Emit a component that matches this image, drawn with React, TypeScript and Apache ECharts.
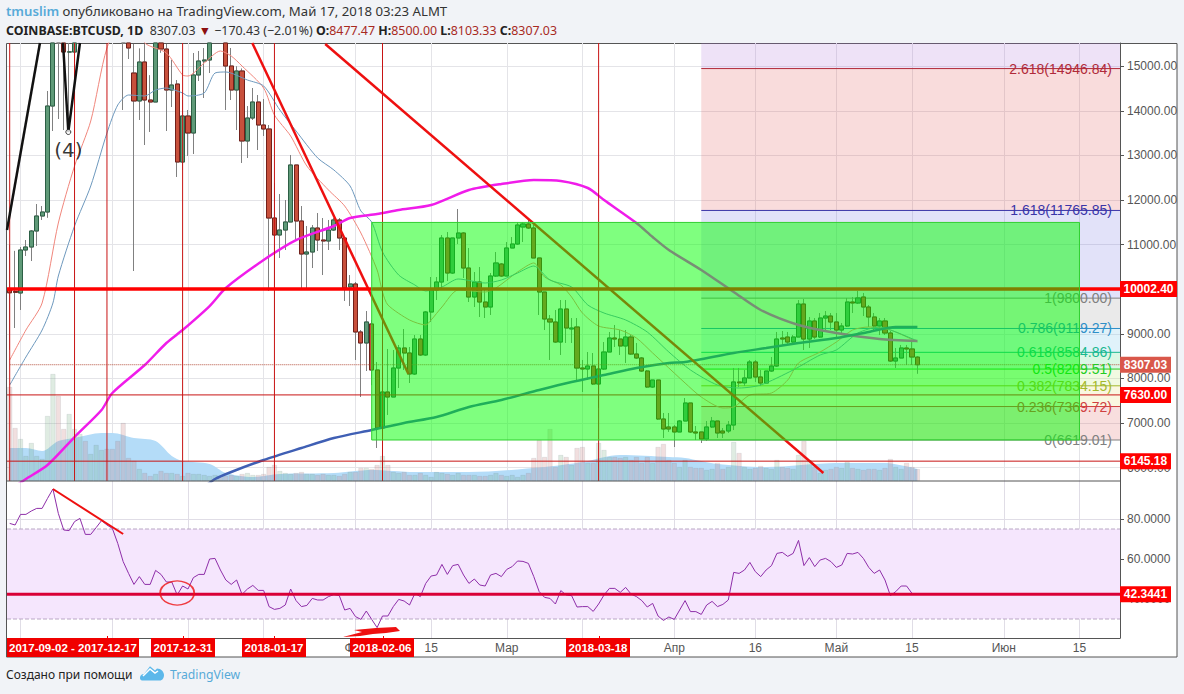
import React, { useEffect, useRef } from "react";
import * as echarts from "echarts";

// ---- Data ----
const dayCount = 206;
const firstDay = Date.UTC(2017, 10, 29);
const categories: string[] = [];
for (let i = 0; i < dayCount; i++) categories.push(new Date(firstDay + i * 86400000).toISOString().slice(0, 10));

// [open, close, low, high]
const candles: number[][] = [
[10000,9920,8640,11000],[9950,9930,9130,10860],[9915,10879,9534,10946],[10879,10946,10745,11103],[10946,11305,10632,11327],
[11305,11641,10969,11910],[11641,11731,11552,11865],[11731,14107,11600,14444],[14107,16400,13547,17000],[16650,16000,13816,17300],
[16000,15318,13569,16300],[15318,15320,13800,15800],[15318,16700,15116,17200],[16700,17000,16000,17300],[17000,16300,15800,17200],
[16300,16400,15700,16900],[16400,17600,16300,17800],[17600,19300,17500,19700],[19300,19100,18700,19650],[19100,18900,17200,19200],
[18900,17700,16300,19000],[17700,16460,14018,17900],[16460,15408,15161,17200],[14847,14220,10408,15500],[14220,15094,13794,15400],
[15094,14242,13233,15500],[14242,14197,13525,14800],[14197,15700,14197,16100],[15700,15385,15300,16000],[15385,14466,13547,15500],
[14466,14578,14085,15139],[14600,12852,12516,14690],[12852,13883,12673,14242],[13883,13502,12987,14018],[13502,14803,13031,15296],
[14803,15116,14668,15341],[15116,15139,14287,15408],[15139,15800,14847,16000],[15800,16900,15700,17100],[16900,16000,15600,17200],
[16000,15004,14018,16300],[15004,14466,14242,15408],[14466,14892,13569,15000],[14892,13323,12830,14950],[13323,13838,12942,14107],
[13838,14197,13794,14511],[14197,13681,13121,14354],[13681,13592,13435,14264],[13592,11596,9960,13681],[11596,11215,9063,12381],
[11215,11327,10700,12134],[11327,11507,10879,12000],[11507,12785,11507,13009],[12785,11529,11103,12785],[11529,10789,10027,11865],
[10789,10834,9982,11417],[10834,11372,10475,11439],[11372,11103,10857,11708],[11103,11081,10318,11596],[11081,11327,10879,11552],
[11327,11552,11305,11596],[11552,11148,10879,11596],[11148,10027,9736,11148],[10049,10117,9623,10318],[10117,9041,8413,10161],
[9041,8794,7583,9085],[8794,9265,8166,9511],[9220,8189,7850,9310],[8189,6888,6440,8368],[6888,7695,5991,7964],
[7695,7583,7180,8660],[7583,8233,7583,8637],[8233,8682,7785,8750],[8682,8570,8189,9108],[8570,8099,7897,8704],
[8099,8883,8077,8973],[8883,8525,8502,8973],[8525,9489,8502,9511],[9489,9982,9265,10274],[9982,10161,9758,10274],
[10161,11148,9982,11215],[11148,10363,10184,11282],[10363,11148,10341,11148],[11148,11260,11013,11798],[11260,10475,10251,11282],
[10475,9825,9713,10924],[9825,10161,9601,10386],[10161,9713,9377,10498],[9713,9601,9354,10027],[9601,10296,9422,10363],
[10296,10588,10274,10834],[10565,10296,10274,10588],[10296,10924,10296,11058],[10924,11013,10924,11170],[11013,11439,10991,11507],
[11395,11462,11058,11507],[11462,11372,11350,11596],[11372,10700,10700,11439],[10700,9937,9422,10700],[9937,9332,9085,9937],
[9332,9265,8413,9422],[9265,8816,8794,9534],[8816,9556,8525,9758],[9556,9130,8794,9758],[9108,9130,8794,9354],
[9153,8233,7964,9354],[8233,8211,7695,8413],[8211,8278,7964,8592],[8278,7875,7852,8570],[7875,8211,7337,8346],
[8211,8592,8189,8816],[8592,8906,8592,9041],[8906,8883,8704,9198],[8883,8727,8525,9085],[8727,8928,8346,9085],
[8928,8547,8525,8973],[8547,8458,8436,8794],[8458,8166,8144,8480],[8166,7807,7785,8189],[7807,7964,7785,7964],
[7964,7090,7068,7964],[7090,6866,6664,7225],[6911,6866,6800,7225],[6911,6799,6462,6955],[6799,7045,6799,7068],
[7045,7449,7045,7561],[7449,6799,6776,7449],[6799,6776,6619,6933],[6799,6641,6552,6799],[6641,6911,6597,7045],
[6911,7045,6888,7135],[7045,6776,6664,7045],[6821,6776,6664,6888],[6821,6955,6776,7045],[6955,7920,6843,8234],
[7920,7900,7807,8234],[7900,8009,7830,8189],[8009,8368,8009,8413],[8368,8032,7920,8413],[8032,7897,7830,8189],
[7897,8166,7875,8166],[8166,8278,8144,8480],[8278,8883,8256,9041],[8906,8883,8750,9063],[8928,8816,8772,9041],
[8816,8928,8794,8973],[8928,9668,8928,9758],[9668,8883,8637,9780],[8883,9287,8682,9377],[9287,8928,8883,9354],
[8928,9354,8906,9466],[9354,9399,9085,9511],[9399,9265,9085,9466],[9265,9085,8906,9466],[9085,9175,8973,9242],
[9175,9713,9153,9803],[9713,9691,9466,9825],[9691,9803,9668,9960],[9825,9601,9399,9915],[9601,9377,9153,9646],
[9377,9175,9041,9466],[9175,9287,8973,9354],[9287,9018,8973,9354],[9018,8390,8368,9063],[8390,8458,8233,8682],
[8458,8682,8458,8750],[8682,8660,8301,8750],[8660,8480,8301,8861],[8477.47,8307.03,8103.33,8500],
];

const volumes = [94,53,42,25,38,25,22,65,107,85,52,67,52,47,40,27,36,31,32,32,40,58,23,20,12,8,5,7,10,8,8,7,5,8,7,7,6,5,6,5,5,6,5,7,8,6,6,7,14,16,10,8,7,8,9,7,7,6,7,6,6,5,7,9,9,13,13,12,16,25,16,9,8,9,6,6,8,6,4,9,8,7,6,8,6,6,6,5,5,6,8,6,5,6,4,6,8,23,41,24,52,14,26,24,16,33,34,18,18,38,31,24,24,23,24,21,24,18,24,18,34,37,21,18,14,21,14,13,13,11,12,18,12,14,39,28,14,12,13,15,13,12,21,14,13,12,26,40,21,14,8,11,12,14,13,19,13,12,11,12,12,11,13,22,14,12,18,14,12];
const volumeAverage = [[0,33],[3,33],[6,30],[9,40],[12,43],[17,48],[19,48],[23,43],[27,40],[30,25],[32,20],[37,17],[40,8],[45,4],[50,7],[60,8],[67,11],[75,9],[85,9],[99,14],[106,19],[113,26],[122,24],[125,23],[131,17],[140,14],[153,18],[162,18],[168,12]];

const fastAverage = [[0,8413],[3,9085],[6,9691],[9,11484],[12,12762],[15,13771],[18,15408],[21,16036],[24,15924],[25,15520],[29,15296],[32,14803],[33,14780],[36,15072],[39,15341],[41,15228],[43,15004],[47,14511],[49,13906],[52,13435],[55,12762],[59,12224],[62,11865],[65,11260],[68,10431],[69,9937],[70,9646],[74,9310],[77,9198],[78,9310],[80,9601],[83,9982],[88,9937],[90,10027],[94,10386],[97,10588],[99,10274],[102,10094],[104,9825],[106,9466],[109,9175],[113,9085],[116,8906],[119,8570],[121,8346],[125,7897],[128,7583],[132,7337],[134,7359],[137,7628],[141,7673],[144,7964],[146,8346],[150,8592],[153,8816],[156,9085],[159,9153],[163,9085],[168,8816]];
const slowAverage = [[0,7852],[3,8480],[6,9085],[8,9691],[9,10296],[12,11417],[15,12314],[18,13502],[20,14130],[22,14354],[25,14332],[27,14466],[29,14511],[32,14399],[33,14332],[36,14399],[38,14847],[40,14870],[44,14690],[47,14556],[50,14018],[53,13547],[57,12942],[60,12673],[63,12314],[65,11753],[67,11507],[69,10834],[72,10318],[75,10094],[77,9960],[80,10049],[83,10229],[88,10139],[91,10206],[94,10363],[97,10520],[100,10206],[104,10049],[107,9646],[110,9466],[114,9310],[118,9041],[122,8592],[126,8189],[131,7852],[135,7785],[139,7852],[145,8189],[150,8525],[153,8637],[157,9018],[161,9153],[164,9041],[168,8839]];
const magentaAverage = [[0,5498],[3,5745],[7,6059],[12,6686],[17,7292],[19,7673],[25,8300],[29,8794],[32,9085],[37,9623],[40,10027],[47,10655],[53,11103],[60,11417],[63,11596],[68,11686],[72,11776],[78,11888],[85,12224],[91,12359],[97,12448],[102,12426],[107,12269],[110,12000],[116,11484],[119,11170],[122,10879],[128,10431],[134,9937],[139,9534],[146,9198],[153,9018],[161,8884],[168,8839]];
const blueAverage = [[36,5566],[38,5745],[41,5902],[47,6171],[54,6440],[60,6664],[67,6843],[73,7000],[79,7135],[85,7359],[91,7516],[98,7740],[104,7920],[110,8077],[116,8234],[122,8346],[125,8368],[134,8570],[140,8682],[146,8794],[153,8906],[159,9041],[164,9153],[168,9153]];

const rsiValues = [77.8,77,82.3,82.3,84,85.3,85.3,90.3,95,82.8,74.5,74.2,78.7,80.3,72.3,72.3,75.7,79.2,77,75.3,67.8,58.7,52.8,47.3,51.2,47.3,47.3,54.3,52.3,48.5,48.5,42,46.5,45,50.7,52.3,52.3,60,60.3,54.5,49.5,47.3,49.5,42.3,45,46.8,44.3,44.3,36.2,34.8,35.3,37,45,39.2,36.2,36.8,40.3,39.5,39.5,41.2,42.2,41.7,34.5,35.3,31.2,29.8,34,29.8,25.7,31.5,31.5,36.2,39.8,39,37,42.8,41.2,47.8,51.5,52,57.3,52.3,56.7,57.3,52,47.8,50,47,46.5,52,52.8,51.2,54.8,56.2,59,58.8,57.8,51.2,43.7,40.8,40.3,37.5,44.2,42,41.7,36,36.2,36.2,33.8,37.5,42,45.3,45.3,43.3,45.8,42.5,41.2,39.2,36,37.8,31.5,29.3,31,29.8,34.5,39.2,33.7,33.7,32.3,37,38.8,36.2,37.3,39.5,53.3,52.8,54.5,58.3,53.7,51.2,54.5,56.7,62.8,63.3,61.3,62.8,69.3,56.7,60.7,56.2,59.5,60.3,58.7,55.8,57,62.8,62.5,63.3,60.3,55.8,52.8,54.5,49.5,41.7,43.7,46.5,46.5,42.8,42.34];

const fibLevels = [
  { k: "0", v: 6619.01, line: "#808080" },
  { k: "0.236", v: 7369.72, line: "#d04040" },
  { k: "0.382", v: 7834.15, line: "#a4b82c" },
  { k: "0.5", v: 8209.51, line: "#22cc22" },
  { k: "0.618", v: 8584.86, line: "#18b890" },
  { k: "0.786", v: 9119.27, line: "#2f8fc8" },
  { k: "1", v: 9800.0, line: "#808080" },
  { k: "1.618", v: 11765.85, line: "#3a35a8" },
  { k: "2.618", v: 14946.84, line: "#b02a3a" },
];
const fibBandColors = ["rgba(220,90,90,.2)", "rgba(235,225,130,.25)", "rgba(190,230,120,.22)", "rgba(110,225,150,.25)", "rgba(130,205,235,.25)", "rgba(150,150,150,.2)", "rgba(110,110,225,.2)", "rgba(225,80,80,.2)", "rgba(170,110,215,.2)"];

const tradingLevels = [
  { v: 10002.4, text: "10002.40", color: "#ff0000", w: 57 },
  { v: 8307.03, text: "8307.03", color: "#d9574a", w: 51 },
  { v: 7630, text: "7630.00", color: "#ff0000", w: 51 },
  { v: 6145.18, text: "6145.18", color: "#ff0000", w: 51 },
];
const redVerticals = [0, 12, 18, 32, 49, 69, 109];
const gridDays = [2, 19, 33, 47, 64, 78, 92, 106, 123, 138, 153, 167, 184, 198];
const timeLabels: Record<number, string> = { 64: "Фев", 78: "15", 92: "Мар", 123: "Апр", 138: "16", 153: "Май", 167: "15", 184: "Июн", 198: "15" };
const dateTags = [
  { a: 7, b: 139, t: "2017-09-02 - 2017-12-17" },
  { a: 151, b: 215, t: "2017-12-31" },
  { a: 242, b: 306, t: "2018-01-17" },
  { a: 350, b: 414, t: "2018-02-06" },
  { a: 566, b: 630, t: "2018-03-18" },
];
const priceTicks = [6000, 7000, 8000, 9000, 10000, 11000, 12000, 13000, 14000, 15000];
const priceLabels = [6000, 7000, 8000, 9000, 11000, 12000, 13000, 14000, 15000];
const rsiTicks = [40, 60, 80];
const rsiNow = 42.3441;
const redTrends = [
  [[44.9, 15520], [73.8, 8099]],
  [[58.4, 15497], [150.6, 5879]],
];
const blackTrends = [
  [[-0.5, 11327], [5.6, 15520]],
  [[9.87, 15520], [10.85, 13525], [13.0, 15520]],
];
const greenBox = [67, 6619.01, 198, 11497];
const PRICE_TOP = 15520;
const END = dayCount - 0.5;
const FONT = '"Liberation Sans", Arial, sans-serif';
const HEAD = '"Noto Sans", "Open Sans", sans-serif';

echarts.graphic.registerShape("tvcloud", echarts.graphic.extendPath("M0 13 C0 10 2 9 4 9 L10 2 L15 6 L17 4 C21 4 24 7 24 10 C24 13 22 15 20 15 L2 15 C1 15 0 14 0 13 Z", {}));

function seg(data: number[][], color: string, width: number, z: number, type: string = "solid", xAxisIndex = 1, yAxisIndex = 0, smooth: any = false): any {
  return { type: "line", xAxisIndex, yAxisIndex, data, z, smooth, symbol: "none", silent: true, clip: true, lineStyle: { color, width, type } };
}
function boxes(rows: number[][], fills: string[], z: number, stroke?: string, xAxisIndex = 1, yAxisIndex = 0): any {
  return {
    type: "custom", xAxisIndex, yAxisIndex, z, silent: true, clip: true,
    data: rows, encode: { x: [0, 2], y: [1, 3] },
    renderItem: (p: any, api: any) => {
      const a = api.coord([api.value(0), api.value(1)]);
      const b = api.coord([api.value(2), api.value(3)]);
      return { type: "rect", shape: { x: a[0], y: b[1], width: b[0] - a[0], height: a[1] - b[1] }, style: { fill: fills[p.dataIndex], stroke: stroke || "none", lineWidth: stroke ? 1 : 0 } };
    },
  };
}

// A candlestick series is not clipped by its grid, so what lies above the pane is cut at the pane's top.
function capped(c: number[]): any {
  if (c[2] >= PRICE_TOP) return "-";
  return c.map((v) => Math.min(v, PRICE_TOP));
}
function cappedBody(c: number[]): any {
  if (Math.min(c[0], c[1]) >= PRICE_TOP) return "-";
  const o = Math.min(c[0], PRICE_TOP);
  const k = Math.min(c[1], PRICE_TOP);
  return [o, k, Math.min(o, k), Math.max(o, k)];
}

function buildOption(): any {
  const up = (c: number[]) => c[1] >= c[0];
  const fibRows = fibLevels.map((f, i) => [128, f.v, END, i + 1 < fibLevels.length ? fibLevels[i + 1].v : PRICE_TOP]);
  const series: any[] = [
    boxes(fibRows, fibBandColors, 1),
    ...fibLevels.map((f) => seg([[128, f.v], [END, f.v]], f.line, 1, 3)),
    {
      type: "line", xAxisIndex: 1, yAxisIndex: 1, data: volumeAverage, z: 2, symbol: "none", silent: true, smooth: 0.3,
      lineStyle: { width: 0 }, areaStyle: { color: "#b4dcf8", opacity: 1 },
    },
    {
      type: "bar", xAxisIndex: 0, yAxisIndex: 1, z: 3, barWidth: 5, silent: true,
      data: volumes.map((v, i) => ({
        value: v,
        itemStyle: {
          color: up(candles[i]) ? "rgba(110,170,125,.22)" : "rgba(195,120,120,.24)",
          borderColor: "rgba(110,120,130,.22)", borderWidth: 0.6,
        },
      })),
    },
    {
      type: "candlestick", xAxisIndex: 0, yAxisIndex: 0, z: 4, barWidth: 4.6, silent: true, data: candles.map(capped),
      itemStyle: { color: "#5f9a78", color0: "#c8503c", borderColor: "#808080", borderColor0: "#808080", borderWidth: 1 },
    },
    {
      type: "candlestick", xAxisIndex: 0, yAxisIndex: 0, z: 5, barWidth: 4.6, silent: true,
      data: candles.map(cappedBody),
      itemStyle: { color: "#5f9a78", color0: "#c8503c", borderColor: "#2c5f45", borderColor0: "#72201a", borderWidth: 1 },
    },
    seg(fastAverage, "#f0867c", 1, 6, "solid", 1, 0, 0.25),
    seg(slowAverage, "#6d98bd", 1, 6, "solid", 1, 0, 0.25),
    seg(magentaAverage, "#f01cea", 2.5, 6, "solid", 1, 0, 0.25),
    seg(blueAverage, "#3f5fb4", 2.5, 6, "solid", 1, 0, 0.25),
    ...redVerticals.map((d) => seg([[d, 5700], [d, PRICE_TOP]], "#c81414", 1, 7)),
    ...redTrends.map((t) => seg(t, "#ee1010", 2.5, 7)),
    ...blackTrends.map((t) => seg(t, "#111111", 2.5, 7)),
    {
      type: "scatter", xAxisIndex: 1, yAxisIndex: 0, z: 8, silent: true, data: [[10.85, 13525]], symbolSize: 5,
      itemStyle: { color: "#fff", borderColor: "#111", borderWidth: 1 },
      label: { show: true, formatter: "(4)", position: "bottom", distance: 5, fontSize: 20, color: "#000", fontFamily: '"DejaVu Sans"' },
    },
    seg([[-0.5, 10002.4], [END, 10002.4]], "#ff0000", 3.5, 8),
    seg([[-0.5, 7630], [END, 7630]], "#c81414", 1, 8),
    seg([[-0.5, 6145.18], [END, 6145.18]], "#c81414", 1, 8),
    seg([[0, 8307.03], [END, 8307.03]], "#b5503c", 1, 8, "dotted"),
    boxes([greenBox], ["rgba(0,255,0,.5)"], 10, "#30d030"),
    // RSI pane
    boxes([[-0.5, 30, END, 75]], ["#f5e6fd"], 1, undefined, 2, 2),
    seg([[-0.5, 75], [END, 75]], "#b9a7c4", 1, 2, "dashed", 2, 2),
    seg([[-0.5, 30], [END, 30]], "#b9a7c4", 1, 2, "dashed", 2, 2),
    seg(rsiValues.map((v, i) => [i, v]), "#8e2ea8", 1, 4, "solid", 2, 2),
    seg([[8, 95], [21, 72.5]], "#ee1010", 2, 5, "solid", 2, 2),
    seg([[-0.5, rsiNow], [END, rsiNow]], "#d90036", 3, 5, "solid", 2, 2),
    {
      type: "scatter", xAxisIndex: 2, yAxisIndex: 2, z: 6, silent: true, data: [[31, 43]], symbolSize: [34, 24],
      itemStyle: { color: "rgba(0,0,0,0)", borderColor: "#ee1010", borderWidth: 1.5 },
    },
  ];
  return {
    animation: false,
    backgroundColor: "#f1f3f7",
    grid: [
      { left: 7, right: 64, top: 43, height: 438 },
      { left: 7, right: 64, top: 481, height: 157 },
    ],
    xAxis: [
      { type: "category", gridIndex: 0, data: categories, boundaryGap: true, axisLine: { show: false }, axisTick: { show: false }, axisLabel: { show: false }, splitLine: { show: false } },
      {
        type: "value", gridIndex: 0, min: -0.5, max: END, position: "top",
        axisLine: { show: false }, axisLabel: { show: false },
        axisTick: { show: false, customValues: gridDays },
        splitLine: { show: true, lineStyle: { color: "#e4e4e8", width: 1 } },
      },
      {
        type: "value", gridIndex: 1, min: -0.5, max: END,
        axisLine: { show: true, onZero: false, lineStyle: { color: "#555" } },
        axisTick: { show: false, customValues: gridDays },
        axisLabel: { show: true, customValues: Object.keys(timeLabels).map(Number), formatter: (v: number) => timeLabels[v] || "", color: "#555", fontSize: 12, fontFamily: FONT, margin: 4 },
        splitLine: { show: true, lineStyle: { color: "#e0dde6", width: 1 } },
      },
    ],
    yAxis: [
      {
        type: "value", gridIndex: 0, position: "right", min: 5700, max: PRICE_TOP,
        axisLine: { show: true, onZero: false, lineStyle: { color: "#555" } },
        axisTick: { show: true, length: 4, customValues: priceTicks, lineStyle: { color: "#555" } },
        axisLabel: { customValues: priceLabels, formatter: (v: number) => v.toFixed(2), color: "#555", fontSize: 12, fontFamily: FONT, margin: 7 },
        splitLine: { show: true, lineStyle: { color: "#e4e4e8", width: 1 } },
      },
      { type: "value", gridIndex: 0, position: "left", min: 0, max: 438, show: false, splitLine: { show: false } },
      {
        type: "value", gridIndex: 1, position: "right", min: 20.5, max: 99,
        axisLine: { show: true, onZero: false, lineStyle: { color: "#555" } },
        axisTick: { show: true, length: 4, customValues: rsiTicks, lineStyle: { color: "#555" } },
        axisLabel: { customValues: rsiTicks, formatter: (v: number) => v.toFixed(4), color: "#555", fontSize: 12, fontFamily: FONT, margin: 7 },
        splitLine: { show: true, lineStyle: { color: "#e0dde6", width: 1 } },
      },
    ],
    series,
  };
}

function buildGraphics(chart: any): any[] {
  const py = (v: number) => chart.convertToPixel({ yAxisIndex: 0 }, v);
  const ry = (v: number) => chart.convertToPixel({ yAxisIndex: 2 }, v);
  const tx = (d: number) => chart.convertToPixel({ xAxisIndex: 2 }, d);
  const g: any[] = [];
  g.push({ type: "rect", z: -1, shape: { x: 6.5, y: 43.5, width: 1170.5, height: 613.5 }, style: { fill: "#fff", stroke: "#555", lineWidth: 1 } });
  g.push({ type: "line", z: 12, shape: { x1: 7, y1: 481, x2: 1120, y2: 481 }, style: { stroke: "#555", lineWidth: 1 } });

  g.push({
    type: "text", z: 20, x: 6, y: 11,
    style: {
      text: "{u|tmuslim}{t| опубликовано на TradingView.com, Май 17, 2018 03:23 ALMT}",
      verticalAlign: "middle", textVerticalAlign: "middle",
      rich: {
        u: { fill: "#57aad8", fontSize: 13.2, fontFamily: HEAD, fontWeight: 600 },
        t: { fill: "#333", fontSize: 13.2, fontFamily: HEAD },
      },
    },
  });
  g.push({
    type: "text", z: 20, x: 6, y: 30,
    style: {
      text: "{b|COINBASE:BTCUSD, 1D}{t|  8307.03 }{d|▼}{t| −170.43 (−2.01%) }{b|O:}{r|8477.47}{b| H:}{r|8500.00}{b| L:}{r|8103.33}{b| C:}{r|8307.03}",
      verticalAlign: "middle", textVerticalAlign: "middle",
      rich: {
        b: { fill: "#222", fontSize: 12.4, fontFamily: HEAD, fontWeight: 700 },
        t: { fill: "#333", fontSize: 12.4, fontFamily: HEAD },
        d: { fill: "#8c0f0f", fontSize: 12.4, fontFamily: HEAD },
        r: { fill: "#a82a1f", fontSize: 12.4, fontFamily: HEAD },
      },
    },
  });
  g.push({ type: "text", z: 20, x: 6, y: 674, style: { text: "Создано при помощи", fill: "#222", font: `12px ${HEAD}`, verticalAlign: "middle", textVerticalAlign: "middle" } });
  g.push({ type: "tvcloud", z: 20, x: 140, y: 664, scaleX: 1, scaleY: 1.1, style: { fill: "#5cb8ea" } });
  g.push({ type: "polyline", z: 21, shape: { points: [[143, 676], [150, 669], [155, 673], [158, 671]] }, style: { stroke: "#fff", lineWidth: 1.5, fill: "none" } });
  g.push({ type: "text", z: 20, x: 170, y: 674, style: { text: "TradingView", fill: "#57aad8", font: `12.2px ${HEAD}`, verticalAlign: "middle", textVerticalAlign: "middle" } });

  fibLevels.forEach((f) => {
    g.push({
      type: "text", z: 9, x: 1112, y: py(f.v),
      style: { text: `${f.k}(${f.v.toFixed(2)})`, fill: f.line, font: `14px ${FONT}`, align: "right", textAlign: "right", verticalAlign: "middle", textVerticalAlign: "middle" },
    });
  });

  tradingLevels.forEach((l) => {
    const y = py(l.v);
    g.push({ type: "rect", z: 20, shape: { x: 1120, y: y - 8, width: l.w, height: 16 }, style: { fill: l.color } });
    g.push({ type: "text", z: 21, x: 1120 + l.w / 2, y, style: { text: l.text, fill: "#fff", font: `bold 12px ${FONT}`, align: "center", textAlign: "center", verticalAlign: "middle", textVerticalAlign: "middle" } });
  });
  const ryNow = ry(rsiNow);
  g.push({ type: "rect", z: 20, shape: { x: 1120, y: ryNow - 8, width: 51, height: 16 }, style: { fill: "#ff0000" } });
  g.push({ type: "text", z: 21, x: 1145.5, y: ryNow, style: { text: rsiNow.toFixed(4), fill: "#fff", font: `bold 12px ${FONT}`, align: "center", textAlign: "center", verticalAlign: "middle", textVerticalAlign: "middle" } });

  dateTags.forEach((t) => {
    g.push({ type: "rect", z: 20, shape: { x: t.a, y: 638, width: t.b - t.a, height: 19 }, style: { fill: "#f00000" } });
    g.push({ type: "text", z: 21, x: (t.a + t.b) / 2, y: 648, style: { text: t.t, fill: "#fff", font: `bold 11.5px ${FONT}`, align: "center", textAlign: "center", verticalAlign: "middle", textVerticalAlign: "middle" } });
  });
  [18, 32, 49, 69, 109].forEach((d) => {
    const x = Math.round(tx(d)) + 0.5;
    g.push({ type: "line", z: 21, shape: { x1: x, y1: 636, x2: x, y2: 641 }, style: { stroke: "#f00000", lineWidth: 1 } });
  });

  // hand-drawn red stroke at the foot of the RSI pane
  g.push({
    type: "polygon", z: 13,
    shape: { points: [[343, 637], [362, 632], [354, 630], [376, 628], [396, 627], [400, 631], [386, 633], [373, 634], [360, 636]] },
    style: { fill: "#ee1010" },
  });
  return g;
}

export default function App() {
  const ref = useRef<HTMLDivElement>(null);
  useEffect(() => {
    const chart = echarts.init(ref.current as HTMLDivElement, undefined, { renderer: "svg" });
    chart.setOption(buildOption());
    chart.setOption({ graphic: { elements: buildGraphics(chart) } });
    return () => chart.dispose();
  }, []);
  return <div ref={ref} style={{ position: "fixed", left: 0, top: 0, width: 1184, height: 694 }} />;
}
